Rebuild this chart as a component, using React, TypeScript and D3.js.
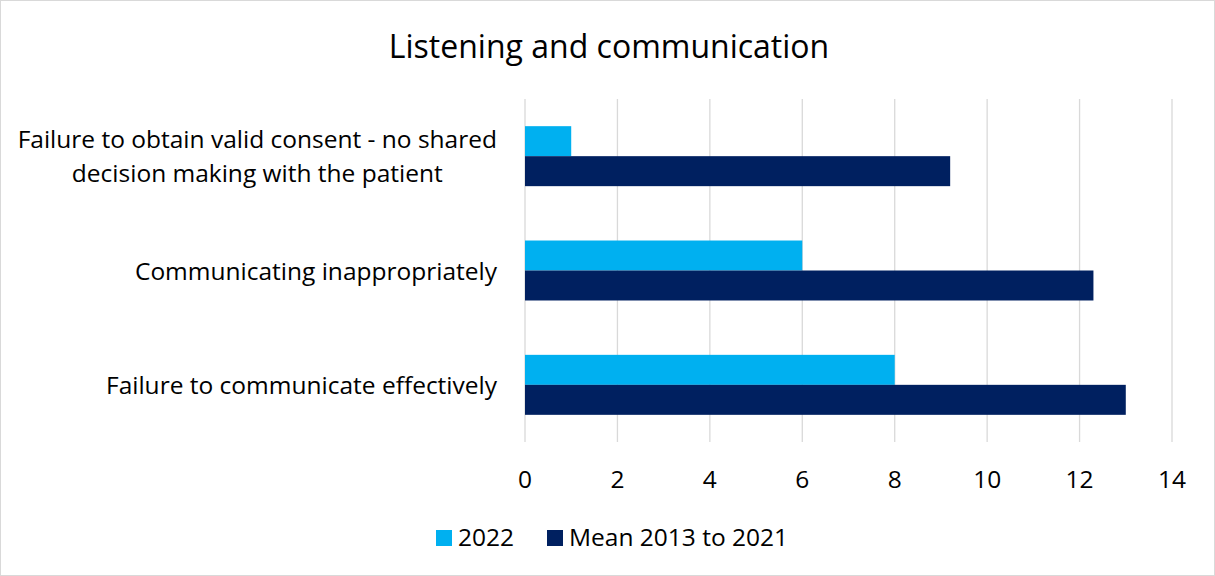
import React from "react";
import * as d3 from "d3";

const categories: string[][] = [
  ["Failure to obtain valid consent - no shared", "decision making with the patient"],
  ["Communicating inappropriately"],
  ["Failure to communicate effectively"],
];
const seriesNames = ["2022", "Mean 2013 to 2021"];
const values2022 = [1, 6, 8];
const valuesMean = [9.2, 12.3, 13];
const xTicks = [0, 2, 4, 6, 8, 10, 12, 14];
const title = "Listening and communication";

const colors = ["#00B0F0", "#002060"];
const W = 1215;
const H = 576;
const FONT = "'Open Sans', 'Noto Sans', sans-serif";
const FS = 24.5;

function measure(text: string): number {
  if (typeof document === "undefined") return text.length * FS * 0.5;
  const c = document.createElement("canvas").getContext("2d");
  if (!c) return text.length * FS * 0.5;
  c.font = `${FS}px 'Open Sans', 'Noto Sans', sans-serif`;
  return c.measureText(text).width;
}

export default function App() {
  const left = 525, right = 1172, top = 99, bottom = 442;
  const x = d3.scaleLinear().domain([0, 14]).range([left, right]);
  const keys = categories.map((_, i) => String(i));
  const y = d3.scaleBand<string>().domain(keys).range([top, bottom]).padding(0);
  const inner = d3
    .scaleBand<string>()
    .domain(seriesNames)
    .range([0, y.bandwidth()])
    .paddingInner(0)
    .paddingOuter(0.906);
  const series = [values2022, valuesMean];
  const labelRight = 497;

  return (
    <svg
      width={W}
      height={H}
      style={{ position: "absolute", left: 0, top: 0, background: "#fff" }}
      fontFamily={FONT}
    >
      <rect x={0.5} y={0.5} width={W - 1} height={H - 1} fill="#fff" stroke="#D9D9D9" />
      <text x={609} y={58} textAnchor="middle" fontSize={32} fill="#000">
        {title}
      </text>
      {xTicks.map((t) => (
        <line key={t} x1={x(t)} x2={x(t)} y1={top} y2={bottom} stroke="#D9D9D9" strokeWidth={1.3} />
      ))}
      {series.map((vals, si) =>
        vals.map((v, ci) => (
          <rect
            key={`${si}-${ci}`}
            x={x(0)}
            y={(y(keys[ci]) as number) + (inner(seriesNames[si]) as number)}
            width={x(v) - x(0)}
            height={inner.bandwidth()}
            fill={colors[si]}
          />
        ))
      )}
      {categories.map((lines, ci) => {
        const cy = (y(keys[ci]) as number) + y.bandwidth() / 2;
        const lh = 34;
        const start = cy - ((lines.length - 1) * lh) / 2;
        const multi = lines.length > 1;
        const maxW = multi ? Math.max(...lines.map(measure)) : 0;
        const ax = multi ? labelRight - maxW / 2 : labelRight;
        return (
          <text key={ci} textAnchor={multi ? "middle" : "end"} fontSize={FS} fill="#000">
            {lines.map((ln, li) => (
              <tspan key={li} x={ax} y={start + li * lh + 9}>
                {ln}
              </tspan>
            ))}
          </text>
        );
      })}
      {xTicks.map((t) => (
        <text key={t} x={x(t)} y={488} textAnchor="middle" fontSize={FS} fill="#000">
          {t}
        </text>
      ))}
      <g>
        <rect x={436} y={530} width={16} height={16} fill={colors[0]} />
        <text x={458} y={546} fontSize={FS} fill="#000">{seriesNames[0]}</text>
        <rect x={547} y={530} width={16} height={16} fill={colors[1]} />
        <text x={569} y={546} fontSize={FS} fill="#000">{seriesNames[1]}</text>
      </g>
    </svg>
  );
}
